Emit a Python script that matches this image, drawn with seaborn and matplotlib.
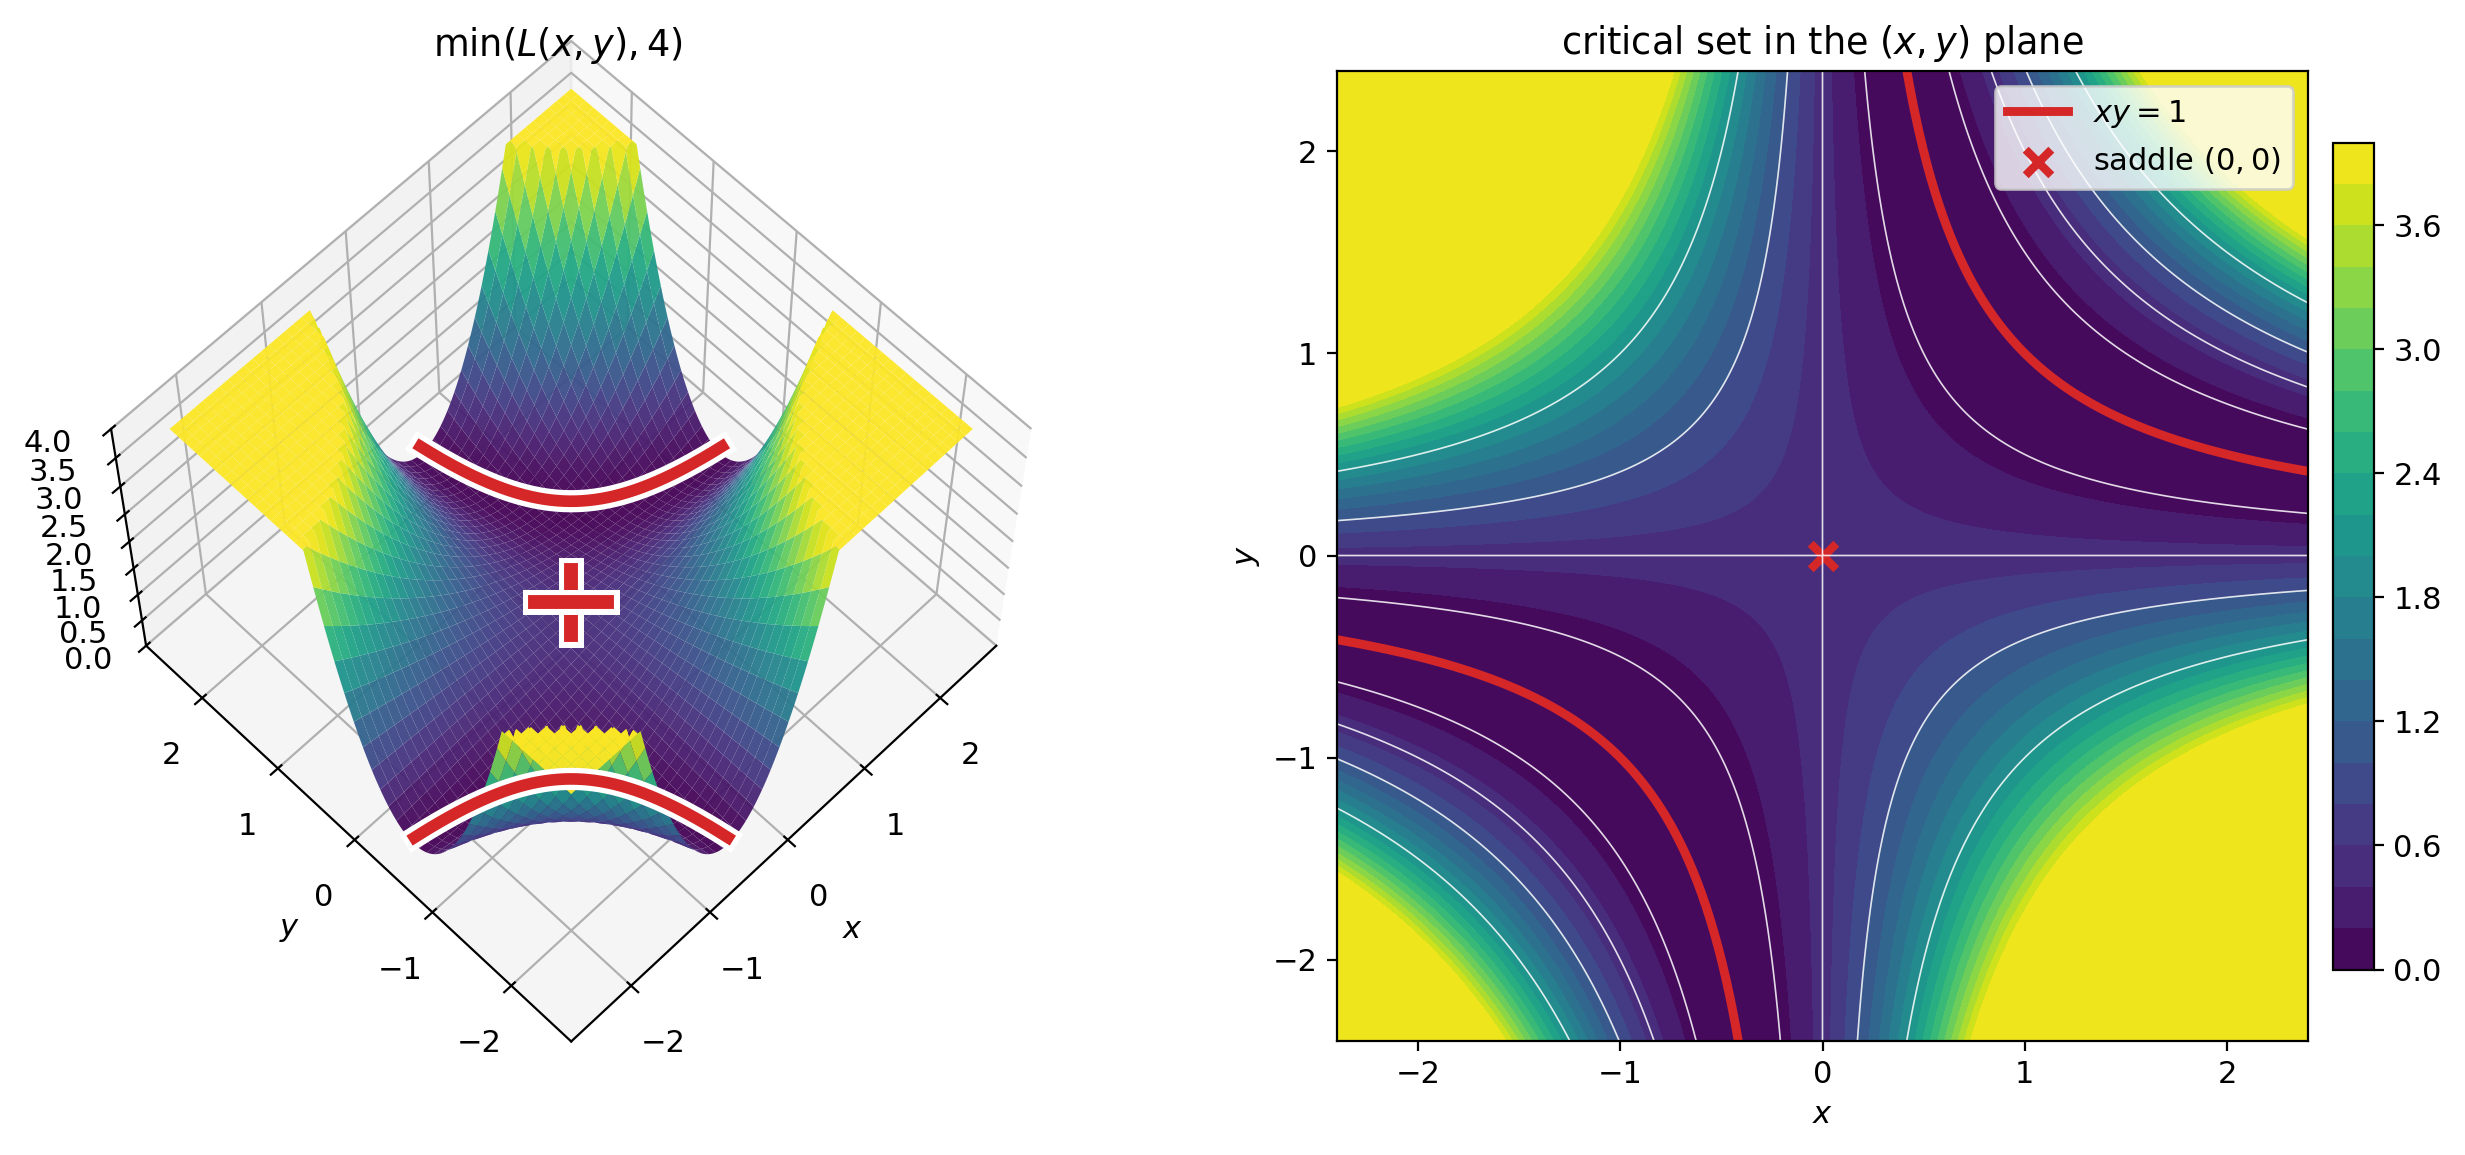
import numpy as np
import pandas as pd
import matplotlib
matplotlib.use("Agg")
import matplotlib.pyplot as plt
import matplotlib.patheffects as pe
import seaborn as sns

# Loss L(x, y) = (xy - 1)^2 / 2, clipped at the top of the plotted range
axis_limit = 2.4
z_cap = 4.0
grid_points = 400
fill_levels = np.linspace(0, 4, 21)
line_levels = [0.125, 0.5, 1.0, 2.0]
z_ticks = [0.0, 0.5, 1.0, 1.5, 2.0, 2.5, 3.0, 3.5, 4.0]
xy_ticks = [-2, -1, 0, 1, 2]
cbar_ticks = [0.0, 0.6, 1.2, 1.8, 2.4, 3.0, 3.6]
saddle_x = [0.0]
saddle_y = [0.0]
cross_half = 0.23
curve_lift = 0.15
cross_lift = 0.85
RED = "#d62728"

plt.rcParams["font.size"] = 11

grid = np.linspace(-axis_limit, axis_limit, grid_points)
X, Y = np.meshgrid(grid, grid)
Z = np.minimum(0.5 * (X * Y - 1) ** 2, z_cap)

branch_x = np.linspace(1 / axis_limit, axis_limit, 300)
branch_y = 1 / branch_x
viridis = sns.color_palette("viridis", as_cmap=True)

fig = plt.figure(figsize=(12.325, 5.775), dpi=200)

# Surface panel, with the minimum curves and the saddle drawn on top
ax3d = fig.add_axes([0.0294, 0.0697, 0.394, 0.9], projection="3d", computed_zorder=False)
ax3d.plot_surface(X, Y, Z, cmap=viridis, vmin=0, vmax=4, linewidth=0,
                  antialiased=True, alpha=0.95, zorder=1)
halo = [pe.Stroke(linewidth=8, foreground="white"), pe.Normal()]
for sign in (1, -1):
    ax3d.plot(sign * branch_x, sign * branch_y, np.full_like(branch_x, curve_lift),
              color=RED, lw=4.2, zorder=5, path_effects=halo)
cross_halo = [pe.Stroke(linewidth=9, foreground="white"), pe.Normal()]
for dx, dy in ((cross_half, cross_half), (cross_half, -cross_half)):
    ax3d.plot([saddle_x[0] - dx, saddle_x[0] + dx], [saddle_y[0] - dy, saddle_y[0] + dy],
              [cross_lift, cross_lift], color=RED, lw=5, zorder=6,
              path_effects=cross_halo)
ax3d.view_init(elev=62.5, azim=-135)
ax3d.set_zlim(0, 4)
ax3d.set_xticks(xy_ticks)
ax3d.set_yticks(xy_ticks)
ax3d.set_zticks(z_ticks)
ax3d.tick_params(axis="x", pad=5.5)
ax3d.tick_params(axis="y", pad=5.5)
ax3d.tick_params(axis="z", pad=4.5)
ax3d.set_xlabel("$x$", labelpad=7)
ax3d.set_ylabel("$y$", labelpad=7)
ax3d.set_title(r"$\min(L(x,y),4)$", fontsize=13.2, y=1.102, pad=0)

# Contour panel
ax = fig.add_axes([1337 / 2465, 1 - 1040.5 / 1155, 971 / 2465, 970 / 1155])
filled = ax.contourf(X, Y, Z, levels=fill_levels, cmap=viridis)
ax.contour(X, Y, Z, levels=line_levels, colors="white", linewidths=0.6, alpha=0.85)
positive = pd.DataFrame({"x": branch_x, "y": branch_y})
negative = pd.DataFrame({"x": -branch_x, "y": -branch_y})
sns.lineplot(data=positive, x="x", y="y", color=RED, lw=3.2, sort=False,
             estimator=None, label="$xy=1$", ax=ax)
sns.lineplot(data=negative, x="x", y="y", color=RED, lw=3.2, sort=False,
             estimator=None, ax=ax)
sns.scatterplot(x=saddle_x, y=saddle_y, marker="x", color=RED, s=85, linewidth=3,
                zorder=1, label="saddle $(0,0)$", ax=ax)
ax.set_xlim(-axis_limit, axis_limit)
ax.set_ylim(-axis_limit, axis_limit)
ax.set_xticks(xy_ticks)
ax.set_yticks(xy_ticks)
ax.set_xlabel("$x$")
ax.set_ylabel("$y$")
ax.set_title(r"critical set in the $(x,y)$ plane", fontsize=13.2)
ax.legend(loc="upper right")

cax = fig.add_axes([2333 / 2465, 1 - 969.5 / 1155, 41 / 2465, 827 / 1155])
fig.colorbar(filled, cax=cax, ticks=cbar_ticks)

fig.savefig("out.png", dpi=200)
